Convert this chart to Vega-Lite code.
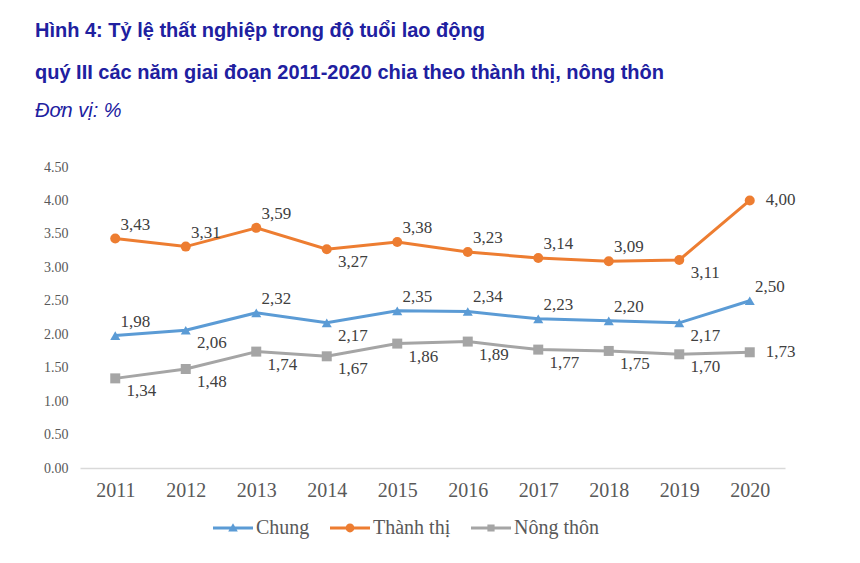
{
  "$schema": "https://vega.github.io/schema/vega-lite/v6.json",
  "autosize": {"type": "none"},
  "width": 705,
  "height": 301,
  "padding": {"left": 80, "top": 167, "right": 75, "bottom": 95},
  "background": "white",
  "config": {"view": {"stroke": null}},
  "title": {
    "text": ["Hình 4: Tỷ lệ thất nghiệp trong độ tuổi lao động", "quý III các năm giai đoạn 2011-2020 chia theo thành thị, nông thôn"],
    "subtitle": "Đơn vị: %",
    "anchor": "start",
    "frame": "group",
    "dx": -45,
    "offset": 39,
    "font": "Liberation Sans",
    "fontSize": 20,
    "fontWeight": "bold",
    "color": "#2020a0",
    "lineHeight": 42,
    "subtitleFont": "Liberation Sans",
    "subtitleFontSize": 20,
    "subtitleFontStyle": "italic",
    "subtitleColor": "#2020a0",
    "subtitlePadding": 18
  },
  "data": {
    "values": [
      {"year": "2011", "series": "Chung", "value": 1.98},
      {"year": "2012", "series": "Chung", "value": 2.06},
      {"year": "2013", "series": "Chung", "value": 2.32},
      {"year": "2014", "series": "Chung", "value": 2.17},
      {"year": "2015", "series": "Chung", "value": 2.35},
      {"year": "2016", "series": "Chung", "value": 2.34},
      {"year": "2017", "series": "Chung", "value": 2.23},
      {"year": "2018", "series": "Chung", "value": 2.20},
      {"year": "2019", "series": "Chung", "value": 2.17},
      {"year": "2020", "series": "Chung", "value": 2.50},
      {"year": "2011", "series": "Thành thị", "value": 3.43},
      {"year": "2012", "series": "Thành thị", "value": 3.31},
      {"year": "2013", "series": "Thành thị", "value": 3.59},
      {"year": "2014", "series": "Thành thị", "value": 3.27},
      {"year": "2015", "series": "Thành thị", "value": 3.38},
      {"year": "2016", "series": "Thành thị", "value": 3.23},
      {"year": "2017", "series": "Thành thị", "value": 3.14},
      {"year": "2018", "series": "Thành thị", "value": 3.09},
      {"year": "2019", "series": "Thành thị", "value": 3.11},
      {"year": "2020", "series": "Thành thị", "value": 4.00},
      {"year": "2011", "series": "Nông thôn", "value": 1.34},
      {"year": "2012", "series": "Nông thôn", "value": 1.48},
      {"year": "2013", "series": "Nông thôn", "value": 1.74},
      {"year": "2014", "series": "Nông thôn", "value": 1.67},
      {"year": "2015", "series": "Nông thôn", "value": 1.86},
      {"year": "2016", "series": "Nông thôn", "value": 1.89},
      {"year": "2017", "series": "Nông thôn", "value": 1.77},
      {"year": "2018", "series": "Nông thôn", "value": 1.75},
      {"year": "2019", "series": "Nông thôn", "value": 1.70},
      {"year": "2020", "series": "Nông thôn", "value": 1.73}
    ]
  },
  "transform": [
    {"calculate": "replace(format(datum.value, '.2f'), '.', ',')", "as": "lbl"}
  ],
  "encoding": {
    "x": {
      "field": "year", "type": "ordinal",
      "scale": {"type": "point", "padding": 0.5},
      "axis": {
        "title": null, "labelAngle": 0, "ticks": false, "grid": false,
        "domainColor": "#d9d9d9", "domainWidth": 1.5,
        "labelFont": "Liberation Serif", "labelFontSize": 20, "labelColor": "#595959",
        "labelPadding": 12
      }
    },
    "y": {
      "field": "value", "type": "quantitative",
      "scale": {"domain": [0, 4.5], "nice": false, "zero": true},
      "axis": {
        "title": null, "domain": false, "ticks": false, "grid": false,
        "values": [0, 0.5, 1, 1.5, 2, 2.5, 3, 3.5, 4, 4.5],
        "format": ".2f",
        "labelFont": "Liberation Serif", "labelFontSize": 14, "labelColor": "#595959",
        "labelPadding": 12
      }
    },
    "color": {
      "field": "series", "type": "nominal",
      "scale": {"domain": ["Chung", "Thành thị", "Nông thôn"], "range": ["#5b9bd5", "#ed7d31", "#a5a5a5"]},
      "legend": {
        "title": null,
        "orient": "none",
        "direction": "horizontal",
        "legendX": 133,
        "legendY": 341,
        "symbolSize": 1600,
        "symbolStrokeWidth": 0,
        "labelFont": "Liberation Serif",
        "labelFontSize": 20,
        "labelColor": "#595959",
        "labelOffset": 3,
        "columnPadding": 20,
        "encode": {
          "symbols": {
            "update": {
              "shape": {"signal": "datum.value === 'Chung' ? 'M-1,-0.075H1V0.075H-1Z M0,-0.24L0.24,0.18H-0.24Z' : datum.value === 'Thành thị' ? 'M-1,-0.075H1V0.075H-1Z M-0.22,0A0.22,0.22 0 1,1 0.22,0A0.22,0.22 0 1,1 -0.22,0Z' : 'M-1,-0.075H1V0.075H-1Z M-0.18,-0.18H0.18V0.18H-0.18Z'"},
              "fill": {"signal": "scale('color', datum.value)"},
              "strokeWidth": {"value": 0},
              "opacity": {"value": 1}
            }
          }
        }
      }
    }
  },
  "layer": [
    {
      "mark": {"type": "line", "strokeWidth": 3},
      "encoding": {}
    },
    {
      "transform": [{"filter": "datum.series === 'Chung'"}],
      "mark": {"type": "point", "shape": "triangle-up", "filled": true, "opacity": 1, "size": 100},
      "encoding": {}
    },
    {
      "transform": [{"filter": "datum.series === 'Thành thị'"}],
      "mark": {"type": "point", "shape": "circle", "filled": true, "opacity": 1, "size": 100},
      "encoding": {}
    },
    {
      "transform": [{"filter": "datum.series === 'Nông thôn'"}],
      "mark": {"type": "point", "shape": "square", "filled": true, "opacity": 1, "size": 100},
      "encoding": {}
    },
    {
      "transform": [
        {"filter": "(datum.series === 'Thành thị' && indexof(['2014','2019','2020'], datum.year) < 0) || (datum.series === 'Chung' && indexof(['2012','2014','2019'], datum.year) < 0)"}
      ],
      "mark": {"type": "text", "font": "Liberation Serif", "fontSize": 17, "dx": 20, "dy": -14, "align": "center", "baseline": "middle"},
      "encoding": {"text": {"field": "lbl"}, "color": {"value": "#404040"}}
    },
    {
      "transform": [
        {"filter": "(datum.series === 'Thành thị' && indexof(['2014','2019'], datum.year) >= 0) || (datum.series === 'Chung' && indexof(['2012','2014','2019'], datum.year) >= 0) || (datum.series === 'Nông thôn' && datum.year !== '2020')"}
      ],
      "mark": {"type": "text", "font": "Liberation Serif", "fontSize": 17, "dx": 26, "dy": 13, "align": "center", "baseline": "middle"},
      "encoding": {"text": {"field": "lbl"}, "color": {"value": "#404040"}}
    },
    {
      "transform": [
        {"filter": "datum.year === '2020' && datum.series !== 'Chung'"}
      ],
      "mark": {"type": "text", "font": "Liberation Serif", "fontSize": 17, "dx": 16, "dy": 0, "align": "left", "baseline": "middle"},
      "encoding": {"text": {"field": "lbl"}, "color": {"value": "#404040"}}
    }
  ]
}
